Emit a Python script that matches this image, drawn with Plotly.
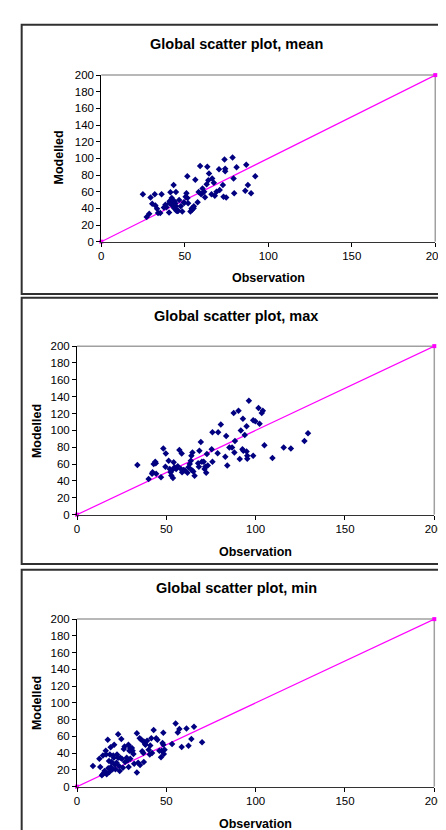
import plotly.graph_objects as go

W, H = 446, 830

# ---------------- data ----------------
mean_obs = [24.9, 27.2, 28.7, 29.5, 30.5, 32.0, 32.4, 33.4, 34.0, 35.3, 36.1, 37.5, 38.4, 40.6, 40.8,
            41.4, 42.1, 42.7, 43.3, 43.7, 44.3, 44.7, 45.0, 46.0, 46.6, 47.6, 48.5, 49.5, 50.5, 51.0,
            51.5, 52.0, 53.4, 54.4, 55.3, 56.3, 57.7, 58.3, 59.2, 59.8, 60.6, 61.6, 62.1, 63.1, 63.5,
            64.1, 64.5, 66.0, 66.4, 67.4, 68.0, 69.0, 70.5, 70.9, 72.8, 73.2, 73.8, 74.2, 74.2, 74.8,
            78.6, 79.2, 79.6, 81.0, 86.2, 86.8, 87.8, 89.7, 92.2,
            39.0, 40.9, 42.2, 42.8, 43.8, 44.8, 45.7, 49.6, 51.6, 54.1, 55.4]
mean_mod = [56.8, 29.6, 33.5, 52.9, 45.4, 56.8, 43.4, 39.4, 34.3, 34.3, 56.8, 41.0, 44.2, 35.1, 46.2,
            59.2, 50.1, 43.0, 67.9, 40.2, 46.2, 59.6, 37.0, 37.0, 50.1, 42.6, 36.3, 47.3, 54.0, 58.0,
            78.5, 46.2, 36.3, 38.3, 40.2, 74.2, 47.3, 59.6, 90.7, 56.8, 63.9, 60.0, 53.3, 69.0, 89.9,
            73.8, 81.7, 56.8, 75.7, 70.6, 55.2, 60.0, 86.8, 61.9, 67.9, 54.0, 98.6, 87.6, 84.4, 52.9,
            101.0, 75.7, 58.0, 89.2, 61.1, 92.3, 67.9, 58.0, 78.5,
            41.4, 48.5, 52.5, 45.4, 48.5, 42.6, 36.7, 46.5, 52.5, 39.8, 42.6]

max_obs = [33.8, 40.1, 42.0, 42.3, 42.9, 43.8, 44.1, 44.3, 47.0, 48.3, 49.5, 49.7, 51.3, 51.9, 52.4,
           52.8, 53.3, 53.7, 54.1, 54.6, 55.5, 56.4, 57.3, 58.2, 58.6, 58.8, 59.7, 60.4, 61.8, 62.4,
           63.1, 63.7, 64.0, 64.6, 64.2, 65.1, 65.8, 67.8, 68.2, 68.5, 69.3, 69.9, 70.9, 71.4, 71.8,
           72.3, 72.7, 73.2, 75.4, 75.8, 75.8, 78.7, 79.0, 80.5, 83.0, 83.5, 84.1, 85.3, 86.8, 87.7,
           88.1, 88.4, 90.4, 91.1, 91.7, 92.6, 92.9, 93.1, 93.9, 94.9, 94.9, 95.3, 95.3, 96.2, 98.6,
           98.6, 99.8, 101.6, 102.2, 103.4, 104.0, 104.9, 109.4, 115.7, 119.7, 127.3, 129.3]
max_mod = [59.0, 42.2, 48.4, 50.4, 60.2, 62.9, 61.0, 48.4, 44.5, 78.5, 57.0, 72.7, 64.0, 54.3, 50.4,
           46.5, 53.1, 43.4, 62.1, 56.3, 54.3, 57.4, 76.6, 54.3, 72.7, 50.4, 53.1, 52.3, 49.6, 56.3,
           60.2, 64.0, 69.9, 73.8, 53.1, 51.2, 46.1, 61.0, 57.0, 75.8, 86.3, 62.9, 62.9, 54.3, 57.0,
           49.6, 71.9, 58.2, 77.7, 97.7, 62.9, 73.0, 97.7, 107.0, 68.8, 93.4, 58.2, 79.7, 79.7, 120.7,
           73.8, 87.5, 123.4, 66.0, 100.0, 77.7, 113.7, 75.8, 94.5, 105.0, 75.0, 69.9, 66.4, 135.2, 69.9,
           112.0, 110.9, 126.6, 107.8, 120.7, 123.4, 82.4, 67.2, 79.7, 78.5, 87.5, 96.5]

min_obs = [8.9, 12.5, 13.0, 13.9, 14.5, 14.8, 15.4, 16.1, 16.3, 16.6, 17.2, 17.5, 17.9, 18.1, 18.4,
           18.8, 19.0, 19.3, 19.9, 20.3, 20.6, 20.8, 21.2, 21.5, 22.1, 22.4, 23.0, 23.0, 23.5, 23.9,
           24.2, 24.8, 25.1, 25.7, 26.2, 26.6, 26.9, 27.8, 28.4, 28.8, 28.9, 29.3, 29.7, 29.8, 30.2,
           30.7, 31.1, 31.6, 32.0, 33.5, 33.5, 34.2, 35.1, 35.3, 36.0, 36.5, 37.1, 37.4, 37.4, 38.0,
           38.3, 39.2, 40.1, 40.7, 41.0, 41.6, 42.0, 42.9, 44.3, 45.0, 46.1, 47.0, 47.4, 47.9, 48.3,
           48.3, 48.6, 49.0, 53.2, 55.2, 56.4, 57.3, 58.6, 61.3, 62.4, 64.0, 65.5, 70.0]
min_mod = [24.6, 33.2, 23.4, 13.7, 37.1, 15.6, 18.8, 43.0, 38.3, 14.8, 55.9, 21.9, 30.5, 17.6, 38.3,
           46.9, 23.4, 29.3, 20.7, 37.1, 34.4, 50.0, 26.6, 20.7, 28.5, 38.3, 62.5, 34.4, 24.6, 18.8,
           34.4, 57.0, 33.2, 22.7, 44.9, 48.0, 29.3, 34.4, 31.6, 50.0, 23.4, 43.0, 46.1, 33.2, 43.0,
           46.1, 43.0, 39.1, 27.3, 63.7, 16.8, 28.5, 57.8, 25.8, 55.9, 42.2, 40.2, 53.9, 29.3, 51.2,
           50.0, 54.7, 44.1, 38.3, 49.2, 57.8, 40.2, 67.6, 57.8, 55.9, 43.0, 35.2, 43.0, 52.0, 50.0,
           64.5, 39.1, 44.1, 50.8, 75.4, 64.8, 68.8, 47.3, 69.5, 48.8, 57.0, 71.5, 53.1]

diag_x = [0, 200]
diag_y = [0, 200]

titles = ["Global scatter plot, mean", "Global scatter plot, max", "Global scatter plot, min"]
x_ticks = [0, 50, 100, 150, 200]
y_ticks = [0, 20, 40, 60, 80, 100, 120, 140, 160, 180, 200]

series = [(mean_obs, mean_mod), (max_obs, max_mod), (min_obs, min_mod)]

# ---------------- layout (pixel geometry) ----------------
# plot areas: (left, right, top, bottom) in pixels
plot_px = [(93, 437, 62, 231), (68, 436, 337, 508), (68, 436, 614, 784)]
title_px = [(232, 30), (232, 306), (232, 582)]
xlab_px = [(265, 268), (252, 546), (252, 822)]
ylab_px = [(49, 146), (27, 423), (27, 699)]
box_px = [(11, 11, 460, 284), (11, 288, 460, 558), (11, 564, 460, 860)]

FONT = "Liberation Sans, Arial, sans-serif"


def px(x):
    return x / W


def py(y):
    return 1 - y / H


fig = go.Figure()
shapes = []
annotations = []

for i, ((obs, mod), (l, r, t, b)) in enumerate(zip(series, plot_px)):
    n = "" if i == 0 else str(i + 1)
    xa, ya = "x" + n, "y" + n
    fig.add_trace(go.Scatter(x=diag_x, y=diag_y, mode="lines+markers", xaxis=xa, yaxis=ya,
                             line=dict(color="#FF00FF", width=1.2),
                             marker=dict(symbol="square", size=4, color="#FF00FF"),
                             showlegend=False, hoverinfo="skip", cliponaxis=False))
    fig.add_trace(go.Scatter(x=obs, y=mod, mode="markers", xaxis=xa, yaxis=ya,
                             marker=dict(symbol="diamond", size=5, color="#000080",
                                         line=dict(width=0)),
                             showlegend=False, cliponaxis=False))
    fig.layout["xaxis" + n] = dict(domain=[px(l), px(r)], range=[0, 200], anchor=ya,
                                   tickvals=x_ticks, ticks="outside", ticklen=4,
                                   tickcolor="#000", linecolor="#333", linewidth=1,
                                   showline=True, showgrid=False, zeroline=False,
                                   tickfont=dict(family=FONT, size=11.5, color="#000"),
                                   fixedrange=True)
    fig.layout["yaxis" + n] = dict(domain=[py(b), py(t)], range=[0, 200], anchor=xa,
                                   tickvals=y_ticks, ticks="outside", ticklen=4,
                                   tickcolor="#000", linecolor="#000", linewidth=1,
                                   showline=True, showgrid=False, zeroline=False,
                                   tickfont=dict(family=FONT, size=11.5, color="#000"),
                                   fixedrange=True)
    # plot-area border (top and right, gray)
    shapes.append(dict(type="line", xref=xa + " domain", yref=ya + " domain",
                       x0=0, x1=1, y0=1, y1=1, line=dict(color="#A0A0A0", width=1.5), layer="below"))
    shapes.append(dict(type="line", xref=xa + " domain", yref=ya + " domain",
                       x0=1, x1=1, y0=0, y1=1, line=dict(color="#A0A0A0", width=1.5), layer="below"))
    # outer chart box
    bx0, by0, bx1, by1 = box_px[i]
    shapes.append(dict(type="rect", xref="paper", yref="paper",
                       x0=px(bx0), x1=px(bx1), y0=py(by1), y1=py(by0),
                       line=dict(color="#303030", width=2), fillcolor="rgba(0,0,0,0)"))
    tx, ty = title_px[i]
    annotations.append(dict(text="<b>" + titles[i] + "</b>", x=px(tx), y=py(ty), xref="paper", yref="paper",
                            showarrow=False, xanchor="center", yanchor="middle",
                            font=dict(family=FONT, size=14.5, color="#000")))
    lx, ly = xlab_px[i]
    annotations.append(dict(text="<b>Observation</b>", x=px(lx), y=py(ly), xref="paper", yref="paper",
                            showarrow=False, xanchor="center", yanchor="middle",
                            font=dict(family=FONT, size=12.5, color="#000")))
    mx, my = ylab_px[i]
    annotations.append(dict(text="<b>Modelled</b>", x=px(mx), y=py(my), xref="paper", yref="paper",
                            showarrow=False, xanchor="center", yanchor="middle", textangle=-90,
                            font=dict(family=FONT, size=12.5, color="#000")))

fig.update_layout(width=W, height=H, margin=dict(l=0, r=0, t=0, b=0),
                  paper_bgcolor="white", plot_bgcolor="white",
                  shapes=shapes, annotations=annotations, showlegend=False)

fig.write_html("out.html", config={"displayModeBar": False})
